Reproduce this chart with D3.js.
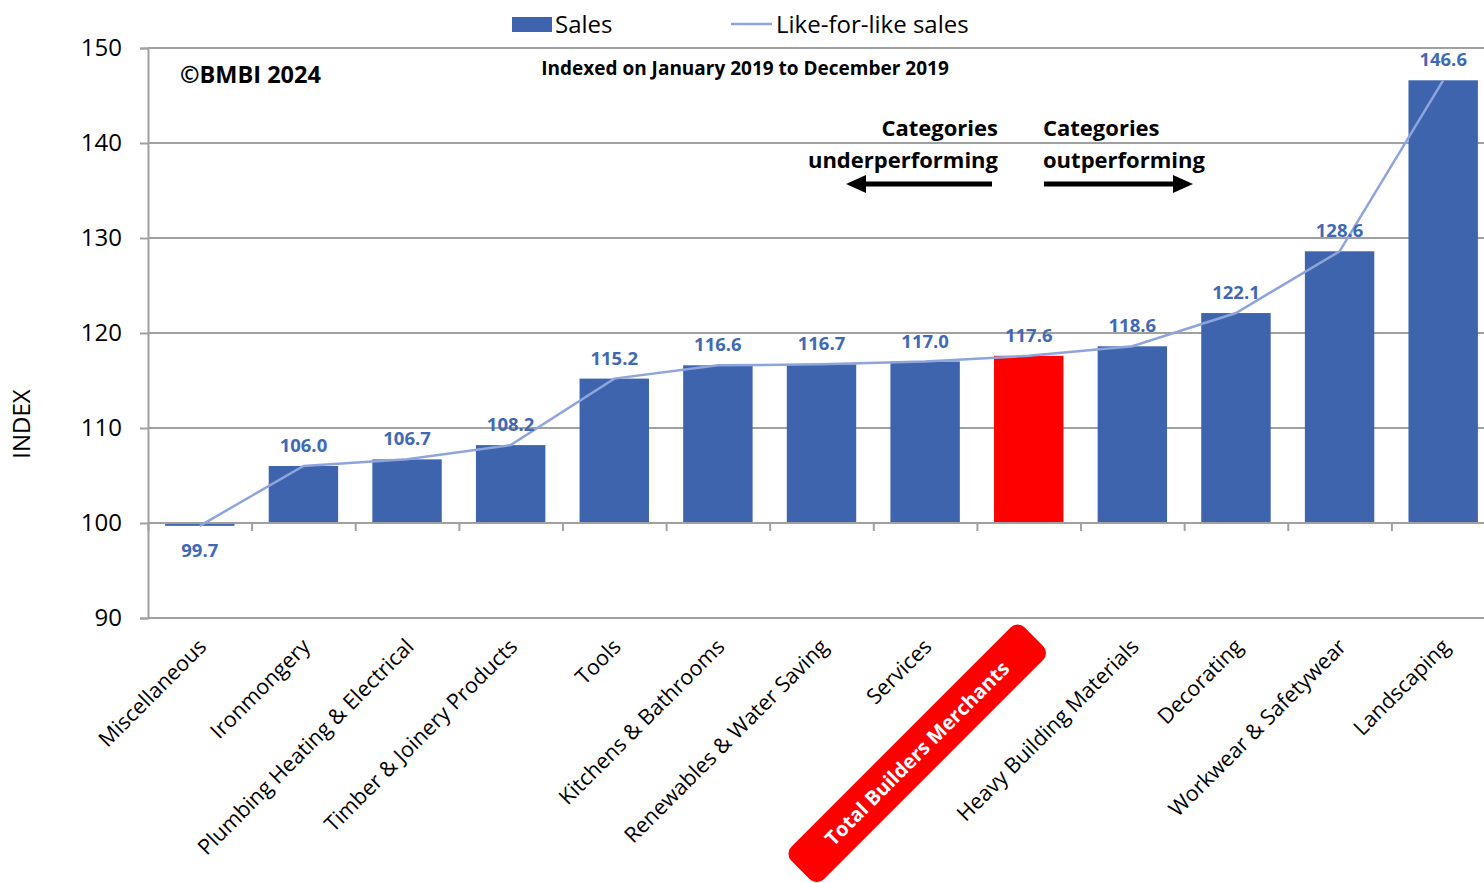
<!DOCTYPE html>
<html>
<head>
<meta charset="UTF-8">
<title>BMBI categories index</title>
<script src="https://cdn.jsdelivr.net/npm/d3@7"></script>
<style>
  body { margin: 0; background: #fff; }
  svg text { font-family: "Open Sans", "Liberation Sans", sans-serif; }
</style>
</head>
<body>
<svg width="1484" height="883"></svg>
<script>
// categories, sorted low to high
var categories = ["Miscellaneous", "Ironmongery", "Plumbing Heating & Electrical", "Timber & Joinery Products",
  "Tools", "Kitchens & Bathrooms", "Renewables & Water Saving", "Services", "Total Builders Merchants",
  "Heavy Building Materials", "Decorating", "Workwear & Safetywear", "Landscaping"];
var sales = [99.7, 106.0, 106.7, 108.2, 115.2, 116.6, 116.7, 117.0, 117.6, 118.6, 122.1, 128.6, 146.6];
var lfl = [99.7, 106.0, 106.7, 108.2, 115.2, 116.6, 116.7, 117.0, 117.6, 118.6, 122.1, 128.6, 146.6];
var yTicks = [90, 100, 110, 120, 130, 140, 150];
var highlight = "Total Builders Merchants";

var svg = d3.select("svg");
var pLeft = 148, pRight = 1495, pTop = 48, pBottom = 618;

var x = d3.scaleBand().domain(categories).range([pLeft, pRight]).paddingInner(0.33).paddingOuter(0.165);
var y = d3.scaleLinear().domain([90, 150]).range([pBottom, pTop]);
var step = x.step();
// category boundaries for the tick marks
var xb = d3.scaleLinear().domain([0, categories.length]).range([pLeft, pLeft + step * categories.length]);

// gridlines
svg.append("g").selectAll("line").data(yTicks).enter().append("line")
  .attr("x1", pLeft).attr("x2", 1484)
  .attr("y1", function (d) { return y(d); }).attr("y2", function (d) { return y(d); })
  .attr("stroke", "#a0a0a0").attr("stroke-width", 2);

// y axis
var ya = svg.append("g").attr("transform", "translate(" + pLeft + ",0)")
  .call(d3.axisLeft(y).tickValues(yTicks).tickSize(8).tickPadding(18));
ya.select(".domain").attr("stroke", "#a0a0a0").attr("stroke-width", 2);
ya.selectAll(".tick line").attr("stroke", "#a0a0a0").attr("stroke-width", 2);
ya.selectAll(".tick text").attr("font-size", 24).attr("fill", "#000")
  .attr("font-family", "Open Sans");

svg.append("text").attr("transform", "translate(30,424) rotate(-90)")
  .attr("text-anchor", "middle").attr("font-size", 24).text("INDEX");

// bars from 100
svg.append("g").selectAll("rect").data(categories).enter().append("rect")
  .attr("x", function (d) { return x(d); })
  .attr("width", x.bandwidth())
  .attr("y", function (d, i) { return Math.min(y(sales[i]), y(100)); })
  .attr("height", function (d, i) { return Math.max(Math.abs(y(sales[i]) - y(100)), 2); })
  .attr("fill", function (d) { return d == highlight ? "#ff0000" : "#3d64ad"; });

// x axis at 100
var xa = svg.append("g").attr("transform", "translate(0," + y(100) + ")")
  .call(d3.axisBottom(xb).ticks(categories.length).tickSize(8).tickFormat(""));
xa.select(".domain").attr("stroke", "#a0a0a0").attr("stroke-width", 2).attr("d", "M" + pLeft + ",0H1484");
xa.selectAll(".tick line").attr("stroke", "#a0a0a0").attr("stroke-width", 2);

// like-for-like line
var line = d3.line()
  .x(function (d, i) { return x(categories[i]) + x.bandwidth() / 2; })
  .y(function (d) { return y(d); });
svg.append("path").datum(lfl).attr("d", line)
  .attr("fill", "none").attr("stroke", "#8ea5dc").attr("stroke-width", 2.5);

// value labels
svg.append("g").selectAll("text").data(categories).enter().append("text")
  .attr("x", function (d) { return x(d) + x.bandwidth() / 2; })
  .attr("y", function (d, i) { return sales[i] < 100 ? y(sales[i]) + 31 : y(sales[i]) - 14; })
  .attr("text-anchor", "middle").attr("font-size", 18.5).attr("font-weight", "bold")
  .attr("fill", "#4169b3")
  .text(function (d, i) { return sales[i].toFixed(1); });

// x labels
var xl = svg.append("g").selectAll("g").data(categories).enter().append("g")
  .attr("transform", function (d) { return "translate(" + (x(d) + x.bandwidth() / 2 + 8) + "," + (pBottom + 30) + ") rotate(-45)"; });
var hl = xl.filter(function (d) { return d == highlight; });
hl.append("rect")
  .attr("x", -324).attr("y", -33).attr("width", 330).attr("height", 46).attr("rx", 10)
  .attr("fill", "#ff0000");
hl.append("text").attr("x", -159).attr("y", -3).attr("text-anchor", "middle")
  .attr("font-size", 20).attr("font-weight", "bold").attr("fill", "#fff")
  .text(function (d) { return d; });
xl.filter(function (d) { return d != highlight; }).append("text")
  .attr("text-anchor", "end").attr("font-size", 21.5).attr("fill", "#000")
  .text(function (d) { return d; });

// legend
svg.append("rect").attr("x", 512).attr("y", 17).attr("width", 40).attr("height", 15).attr("fill", "#3d64ad");
svg.append("text").attr("x", 555).attr("y", 33).attr("font-size", 24).text("Sales");
svg.append("line").attr("x1", 731).attr("x2", 772).attr("y1", 24).attr("y2", 24)
  .attr("stroke", "#8ea5dc").attr("stroke-width", 2.5);
svg.append("text").attr("x", 776).attr("y", 33).attr("font-size", 24).text("Like-for-like sales");

// annotations
svg.append("text").attr("x", 180).attr("y", 83).attr("font-size", 23.5).attr("font-weight", "bold").text("©BMBI 2024");
svg.append("text").attr("x", 745).attr("y", 75).attr("text-anchor", "middle").attr("font-size", 19)
  .attr("font-weight", "bold").text("Indexed on January 2019 to December 2019");

svg.append("text").attr("x", 998).attr("y", 136).attr("text-anchor", "end").attr("font-size", 22)
  .attr("font-weight", "bold").text("Categories");
svg.append("text").attr("x", 998).attr("y", 168).attr("text-anchor", "end").attr("font-size", 22)
  .attr("font-weight", "bold").text("underperforming");
svg.append("text").attr("x", 1043).attr("y", 136).attr("font-size", 22)
  .attr("font-weight", "bold").text("Categories");
svg.append("text").attr("x", 1043).attr("y", 168).attr("font-size", 22)
  .attr("font-weight", "bold").text("outperforming");

svg.append("line").attr("x1", 992).attr("x2", 862).attr("y1", 184).attr("y2", 184)
  .attr("stroke", "#000").attr("stroke-width", 5);
svg.append("path").attr("d", "M846,184L866,175L866,193Z").attr("fill", "#000");
svg.append("line").attr("x1", 1044).attr("x2", 1176).attr("y1", 184).attr("y2", 184)
  .attr("stroke", "#000").attr("stroke-width", 5);
svg.append("path").attr("d", "M1193,184L1173,175L1173,193Z").attr("fill", "#000");
</script>
</body>
</html>
